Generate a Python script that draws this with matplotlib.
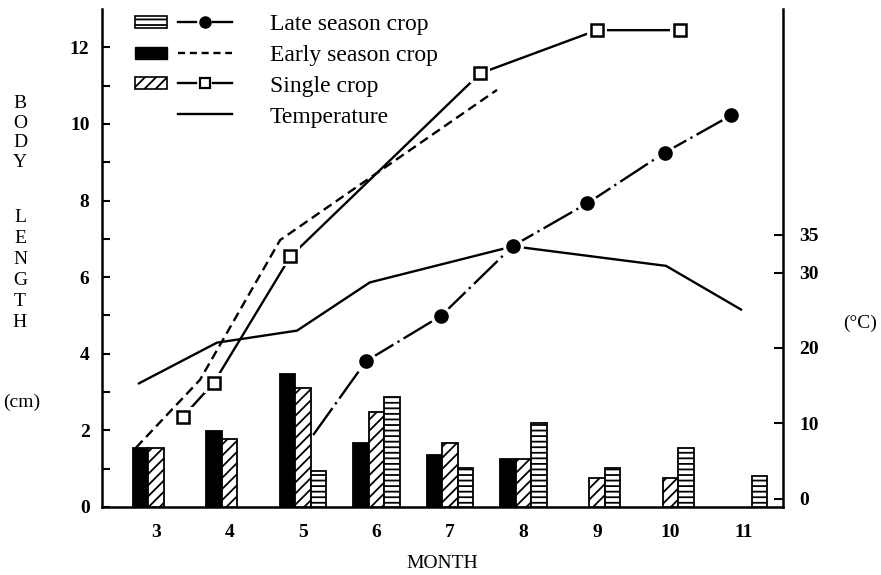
import numpy as np
import matplotlib
matplotlib.use("Agg")
import matplotlib.pyplot as plt
from matplotlib.patches import Rectangle, Patch
from matplotlib.lines import Line2D
from matplotlib.legend_handler import HandlerBase

plt.rcParams['font.family'] = ['Liberation Serif', 'DejaVu Serif']
plt.rcParams['hatch.linewidth'] = 1.3

nan = np.nan

# bars: body length (cm) per month
months = [3, 4, 5, 6, 7, 8, 9, 10, 11]
early_bar = [1.54, 1.99, 3.46, 1.66, 1.37, 1.25, nan, nan, nan]
single_bar = [1.54, 1.78, 3.11, 2.49, 1.66, 1.25, 0.76, 0.75, nan]
late_bar = [nan, nan, 0.95, 2.88, 1.03, 2.19, 1.01, 1.55, 0.81]

# lines (x in months)
early_x = [2.73, 3.60, 4.69, 7.64]
early_len = [1.55, 3.32, 6.97, 10.89]
single_x = [3.37, 3.79, 4.83, 7.41, 9.00, 10.13]
single_len = [2.36, 3.25, 6.54, 11.32, 12.45, 12.45]
late_x = [5.14, 5.86, 6.88, 7.86, 8.87, 9.92, 10.83]
late_len = [1.88, 3.81, 4.99, 6.82, 7.93, 9.25, 10.23]
temp_x = [2.77, 3.83, 4.92, 5.91, 7.86, 9.94, 10.96]
temp_c = [15.3, 20.7, 22.3, 28.7, 33.5, 30.9, 25.1]

temp_ticks = [0, 10, 20, 30, 35]


class PatchLine(HandlerBase):
    # legend entry: small bar swatch followed by the line sample
    def create_artists(self, legend, orig_handle, xdescent, ydescent,
                       width, height, fontsize, trans):
        patch, line = orig_handle
        arts = []
        if patch is not None:
            r = Rectangle((-xdescent, -ydescent), 0.33 * width, height)
            r.update_from(patch)
            r.set_transform(trans)
            arts.append(r)
        x1 = -xdescent + 0.44 * width
        x2 = -xdescent + width
        ym = -ydescent + height / 2
        if line.get_marker() not in (None, 'None', ''):
            xm = (x1 + x2) / 2
            g = 0.09 * width
            for a, b in ((x1, xm - g), (xm + g, x2)):
                seg = Line2D([a, b], [ym, ym])
                seg.update_from(line)
                seg.set_marker('None')
                seg.set_transform(trans)
                arts.append(seg)
            mk = Line2D([xm], [ym])
            mk.update_from(line)
            mk.set_linestyle('None')
            mk.set_transform(trans)
            arts.append(mk)
        else:
            seg = Line2D([x1, x2], [ym, ym])
            seg.update_from(line)
            seg.set_transform(trans)
            arts.append(seg)
        return arts


fig = plt.figure(figsize=(8.81, 5.75), dpi=100)
ax = fig.add_axes([0.1158, 0.1183, 0.7727, 0.8659])
ax2 = ax.twinx()
ax.set_zorder(ax2.get_zorder() + 1)
ax.patch.set_visible(False)

lw = 1.7
w = 0.211
m = np.array(months, dtype=float)

# temperature on the right axis
ax2.plot(temp_x, temp_c, color='black', lw=lw, solid_joinstyle='miter')

# body length lines
ax.plot(early_x, early_len, color='black', lw=lw, linestyle=(0, (4, 2.2)), zorder=2)
ax.plot(single_x, single_len, color='black', lw=lw, zorder=2)
ax.plot(late_x, late_len, color='black', lw=lw, linestyle=(0, (14, 2, 1, 2)), zorder=2)

# white halos leave gaps round the markers
ax.plot(single_x, single_len, 's', ms=14, color='white', mew=0, zorder=3)
ax.plot(late_x[1:], late_len[1:], 'o', ms=15, color='white', mew=0, zorder=3)
ax.plot(single_x, single_len, 's', ms=8, mfc='white', mec='black', mew=1.8, zorder=4)
ax.plot(late_x[1:], late_len[1:], 'o', ms=9.5, color='black', zorder=4)

# bars
styles = [
    (early_bar, -w, dict(facecolor='black', edgecolor='black')),
    (single_bar, 0.0, dict(facecolor='white', edgecolor='black', hatch='///')),
    (late_bar, w, dict(facecolor='white', edgecolor='black', hatch='---')),
]
for vals, off, st in styles:
    v = np.array(vals)
    ok = ~np.isnan(v)
    ax.bar(m[ok] + off, v[ok], w, lw=1.3, zorder=5, **st)

# axes styling
ax.set_xlim(2.267, 11.528)
ax.set_ylim(0, 13)
ax2.set_ylim(-1.12, 65.0)
ax.set_xticks(months)
ax.set_xticklabels([str(x) for x in months])
ax.set_yticks(range(0, 13, 2))
ax.set_yticks(range(1, 13, 2), minor=True)
ax2.set_yticks(temp_ticks)

for s in ['top', 'right']:
    ax.spines[s].set_visible(False)
for s in ['top', 'left', 'bottom']:
    ax2.spines[s].set_visible(False)
ax.spines['left'].set_linewidth(1.8)
ax.spines['bottom'].set_linewidth(1.8)
ax2.spines['right'].set_linewidth(1.8)

ax.tick_params(axis='x', length=0, pad=12, labelsize=14)
ax.tick_params(axis='y', which='both', direction='in', length=6, width=1.5,
               pad=9, labelsize=14)
ax2.tick_params(axis='y', direction='in', length=6.5, width=1.5, pad=12, labelsize=14)
for lab in ax.get_xticklabels() + ax.get_yticklabels() + ax2.get_yticklabels():
    lab.set_fontweight('bold')

ax.set_xlabel('MONTH', fontsize=14, labelpad=10)

fig.text(0.0227, 0.7687, 'B\nO\nD\nY', ha='center', va='center', fontsize=14, linespacing=1.2)
fig.text(0.0227, 0.5304, 'L\nE\nN\nG\nT\nH', ha='center', va='center', fontsize=14, linespacing=1.3)
fig.text(0.025, 0.3009, '(cm)', ha='center', va='center', fontsize=14)
fig.text(0.976, 0.438, '(°C)', ha='center', va='center', fontsize=14)

# legend
h_late = (Patch(facecolor='white', edgecolor='black', hatch='---', lw=1.2),
          Line2D([], [], color='black', lw=lw, marker='o', ms=8))
h_early = (Patch(facecolor='black', edgecolor='black'),
           Line2D([], [], color='black', lw=lw, linestyle=(0, (3, 2))))
h_single = (Patch(facecolor='white', edgecolor='black', hatch='///', lw=1.2),
            Line2D([], [], color='black', lw=lw, marker='s', ms=7, mfc='white', mew=1.6))
h_temp = (None, Line2D([], [], color='black', lw=lw))
ax.legend([h_late, h_early, h_single, h_temp],
          ['Late season crop', 'Early season crop', 'Single crop', 'Temperature'],
          handler_map={tuple: PatchLine()}, loc='upper left',
          bbox_to_anchor=(0.0485, 0.99), frameon=False, fontsize=17,
          borderpad=0, borderaxespad=0, handlelength=4.1, handleheight=0.4,
          handletextpad=1.6, labelspacing=0.42)

fig.savefig('out.png', dpi=100)
